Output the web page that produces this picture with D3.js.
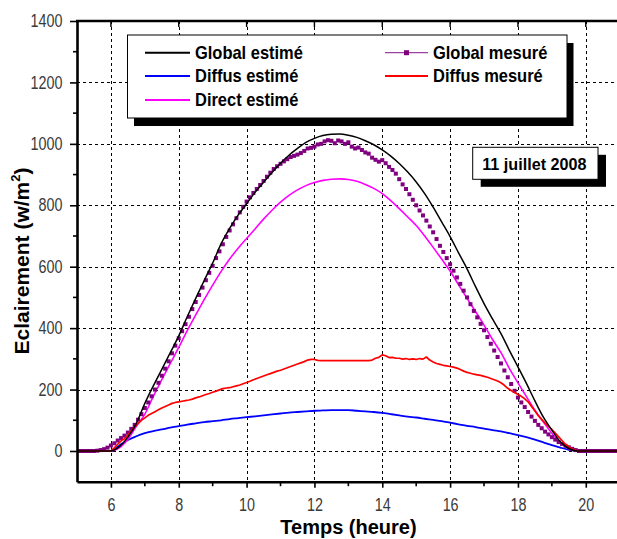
<!DOCTYPE html>
<html>
<head>
<meta charset="utf-8">
<script src="https://cdn.jsdelivr.net/npm/d3@7"></script>
<style>
  html, body { margin: 0; padding: 0; background: #fff; }
  svg { display: block; }
  text { font-family: "Liberation Sans", Arial, sans-serif; }
</style>
</head>
<body>
<svg id="chart" width="617" height="539"></svg>
<script>
// Estimated irradiance, sampled every quarter hour from 5h to 21h
const hoursEstime = d3.range(0, 65).map(i => 5 + i * 0.25);
const globalEstime = [0,0,0,0,0,14,45,90,155,212,266,320,375,437,497,555,612,675,725,768,805,842,875,907,937,963,985,1005,1018,1027,1031,1032,1028,1021,1010,997,980,960,936,908,876,838,794,746,698,645,593,535,480,430,382,327,274,220,163,110,68,30,8,0,0,0,0,0,0];
const diffusEstime = [0,0,0,0,0,18,36,48,58,65,70,76,81,86,90,94,97,100,104,107,110,113,116,119,122,125,127,129,131,132,133,133,133,131,129,127,124,120,116,112,109,105,101,97,92,87,82,78,73,68,64,58,52,45,37,28,19,11,4,0,0,0,0,0,0];
const directEstime = [0,0,0,0,0,10,38,80,120,178,232,285,337,392,443,493,540,585,625,660,692,723,755,784,810,832,850,864,874,881,885,886,884,878,868,855,838,815,789,762,734,700,663,625,586,541,497,454,410,363,320,268,222,177,133,94,58,28,8,0,0,0,0,0,0];

// Measured irradiance, one record every 6 minutes from 5h to 21h
const hoursMesure = d3.range(0, 161).map(i => 5 + i / 10);
const globalMesure = [
  0,0,0,0,0,0,1,3,6,11,                       // 5.0 - 5.9
  18,25,34,42,50,60,72,85,102,120,            // 6.0 - 6.9
  140,158,178,200,222,245,268,292,318,343,    // 7.0 - 7.9
  367,390,413,437,462,485,508,532,556,580,    // 8.0 - 8.9
  603,628,650,673,697,718,738,758,777,795,    // 9.0 - 9.9
  812,826,840,853,866,879,893,906,918,927,    // 10.0 - 10.9
  935,943,950,957,961,965,970,977,985,987,    // 11.0 - 11.9
  991,998,1000,1008,1012,1010,1002,1011,1008,1000, // 12.0 - 12.9
  1005,991,985,988,980,972,968,955,948,942,   // 13.0 - 13.9
  947,937,925,915,903,885,868,853,836,818,    // 14.0 - 14.9
  800,783,767,750,731,712,690,668,648,628,    // 15.0 - 15.9
  608,587,565,544,522,500,478,456,435,414,    // 16.0 - 16.9
  393,371,349,327,306,285,262,240,218,196,    // 17.0 - 17.9
  174,158,143,127,112,98,85,74,63,54,         // 18.0 - 18.9
  45,37,29,23,17,12,7,3,0,0,                  // 19.0 - 19.9
  0,0,0,0,0,0,0,0,0,0,                        // 20.0 - 20.9
  0                                           // 21.0
];
const diffusMesure = [
  0,0,0,0,0,0,0,0,0,0,                        // 5.0 - 5.9
  0,10,22,33,40,52,66,78,90,100,              // 6.0 - 6.9
  108,116,122,128,134,140,145,150,155,158,    // 7.0 - 7.9
  160,162,164,166,169,173,176,180,184,187,    // 8.0 - 8.9
  191,195,199,203,205,206,209,212,215,219,    // 9.0 - 9.9
  223,227,232,236,240,244,248,252,256,260,    // 10.0 - 10.9
  263,267,271,275,279,283,287,291,296,298,    // 11.0 - 11.9
  298,295,294,294,294,294,294,294,294,294,    // 12.0 - 12.9
  294,294,294,294,294,294,294,296,302,305,    // 13.0 - 13.9
  313,310,304,305,302,302,299,301,298,300,    // 14.0 - 14.9
  298,301,299,306,296,290,285,282,279,277,    // 15.0 - 15.9
  275,273,270,265,260,256,253,250,248,246,    // 16.0 - 16.9
  243,240,236,232,228,222,214,204,197,190,    // 17.0 - 17.9
  185,178,170,160,145,130,115,103,91,80,      // 18.0 - 18.9
  70,58,46,34,22,13,6,2,0,0,                  // 19.0 - 19.9
  0,0,0,0,0,0,0,0,0,0,                        // 20.0 - 20.9
  0                                           // 21.0
];

const xMajorTicks = [6, 8, 10, 12, 14, 16, 18, 20];
const xMinorTicks = [7, 9, 11, 13, 15, 17, 19];
const yMajorTicks = [0, 200, 400, 600, 800, 1000, 1200, 1400];
const yMinorTicks = [100, 300, 500, 700, 900, 1100, 1300];

const seriesNames = ["Global estimé", "Diffus estimé", "Direct estimé", "Global mesuré", "Diffus mesuré"];
const seriesColors = ["#000000", "#0000ff", "#ff00ff", "#800080", "#ff0000"];
const dateLabel = "11 juillet 2008";

const svg = d3.select("#chart");
const plotLeft = 77, plotRight = 619.7, plotTop = 21, plotBottom = 481.7;

const x = d3.scaleLinear().domain([5, 21]).range([plotLeft, plotRight]);
const y = d3.scaleLinear().domain([-100, 1400]).range([plotBottom, plotTop]);

// Text narrowed horizontally, anchored at (px, py)
function narrowText(parent, px, py, str, size, sx, anchor, weight, fill) {
  const g = parent.append("g").attr("transform", `translate(${px},${py}) scale(${sx},1)`);
  return g.append("text")
    .attr("text-anchor", anchor)
    .attr("font-size", size)
    .attr("font-weight", weight)
    .attr("fill", fill)
    .text(str);
}

// Dashed grid
const grid = svg.append("g").attr("stroke", "#000").attr("stroke-width", 1).attr("stroke-dasharray", "3,3");
grid.selectAll("line.v").data(xMajorTicks).join("line").attr("class", "v")
  .attr("x1", d => Math.round(x(d)) + 0.5).attr("x2", d => Math.round(x(d)) + 0.5)
  .attr("y1", plotTop).attr("y2", plotBottom);
grid.selectAll("line.h").data(yMajorTicks.filter(v => v < 1400)).join("line").attr("class", "h")
  .attr("y1", d => Math.round(y(d)) + 0.5).attr("y2", d => Math.round(y(d)) + 0.5)
  .attr("x1", plotLeft).attr("x2", 617);

// Curves, clipped to the plot area
svg.append("clipPath").attr("id", "plot-clip")
  .append("rect").attr("x", plotLeft).attr("y", plotTop).attr("width", plotRight - plotLeft).attr("height", plotBottom - plotTop);
const plot = svg.append("g").attr("clip-path", "url(#plot-clip)");

const smoothLine = d3.line().x(d => x(d[0])).y(d => y(d[1])).curve(d3.curveMonotoneX);
const rawLine = d3.line().x(d => x(d[0])).y(d => y(d[1]));

function drawLine(hours, values, color, gen, width) {
  plot.append("path")
    .datum(hours.map((h, i) => [h, values[i]]))
    .attr("fill", "none")
    .attr("stroke", color)
    .attr("stroke-width", width)
    .attr("stroke-linejoin", "round")
    .attr("d", gen);
}

drawLine(hoursEstime, diffusEstime, seriesColors[1], smoothLine, 1.8);
drawLine(hoursEstime, directEstime, seriesColors[2], smoothLine, 1.6);

// Global mesuré: square markers
plot.append("g").selectAll("rect")
  .data(hoursMesure.map((h, i) => [h, globalMesure[i]]))
  .join("rect")
  .attr("x", d => x(d[0]) - 2)
  .attr("y", d => y(d[1]) - 2)
  .attr("width", 4)
  .attr("height", 4)
  .attr("fill", seriesColors[3]);

drawLine(hoursMesure, diffusMesure, seriesColors[4], rawLine, 1.7);
drawLine(hoursEstime, globalEstime, seriesColors[0], smoothLine, 1.5);

// Axes
const tickFill = "#3a3a3a";
const yAxis = svg.append("g").attr("transform", `translate(${plotLeft},0)`)
  .call(d3.axisLeft(y).tickValues(yMajorTicks).tickFormat(d3.format("d")).tickSize(7).tickSizeOuter(0));
const xAxis = svg.append("g").attr("transform", `translate(0,${plotBottom})`)
  .call(d3.axisBottom(x).tickValues(xMajorTicks).tickFormat(d3.format("d")).tickSize(6).tickSizeOuter(0));

[yAxis, xAxis].forEach(a => {
  a.select(".domain").attr("stroke-width", 2.6);
  a.selectAll(".tick line").attr("stroke-width", 1.6);
  a.selectAll(".tick text").attr("font-size", 17.5).attr("fill", tickFill)
    .attr("font-family", "'Liberation Sans', Arial, sans-serif");
});
yAxis.selectAll(".tick text")
  .attr("x", null).attr("dy", "0.32em")
  .attr("transform", "translate(-14.5,0) scale(0.82,1)");
xAxis.selectAll(".tick text")
  .attr("y", null).attr("dy", null)
  .attr("transform", "translate(0,29) scale(0.82,1)");

// Minor ticks
svg.append("g").attr("stroke", "#000").attr("stroke-width", 1.6)
  .selectAll("line").data(yMinorTicks).join("line")
  .attr("x1", plotLeft - 4).attr("x2", plotLeft)
  .attr("y1", d => y(d)).attr("y2", d => y(d));
svg.append("g").attr("stroke", "#000").attr("stroke-width", 1.6)
  .selectAll("line").data(xMinorTicks).join("line")
  .attr("y1", plotBottom).attr("y2", plotBottom + 4.5)
  .attr("x1", d => x(d)).attr("x2", d => x(d));

// Top frame with inward ticks
svg.append("line").attr("x1", plotLeft - 1).attr("x2", 617).attr("y1", plotTop).attr("y2", plotTop)
  .attr("stroke", "#000").attr("stroke-width", 2.6);
svg.append("g").attr("stroke", "#000").attr("stroke-width", 1.4)
  .selectAll("line").data(xMajorTicks).join("line")
  .attr("y1", plotTop).attr("y2", plotTop + 6)
  .attr("x1", d => x(d)).attr("x2", d => x(d));

// Axis titles
svg.append("text")
  .attr("x", 348.5).attr("y", 534)
  .attr("text-anchor", "middle")
  .attr("font-size", 20).attr("font-weight", "bold")
  .text("Temps (heure)");

const yTitle = svg.append("text")
  .attr("transform", "translate(29,261) rotate(-90)")
  .attr("text-anchor", "middle")
  .attr("font-size", 21).attr("font-weight", "bold");
yTitle.append("tspan").text("Eclairement (w/m");
yTitle.append("tspan").attr("font-size", 13).attr("dy", -9).text("2");
yTitle.append("tspan").attr("dy", 9).text(")");

// Legend box with drop shadow
const lg = { x: 127.5, y: 35, w: 439.5, h: 83 };
svg.append("rect").attr("x", lg.x + 6.5).attr("y", lg.y + 8).attr("width", lg.w).attr("height", lg.h).attr("fill", "#000");
svg.append("rect").attr("x", lg.x).attr("y", lg.y).attr("width", lg.w).attr("height", lg.h)
  .attr("fill", "#fff").attr("stroke", "#000").attr("stroke-width", 1);

const legendItems = [
  { i: 0, lx: 145, rowY: 52.7 },
  { i: 1, lx: 145, rowY: 76 },
  { i: 2, lx: 145, rowY: 100 },
  { i: 3, lx: 385, rowY: 52.7 },
  { i: 4, lx: 385, rowY: 76 }
];
const legend = svg.append("g");
legendItems.forEach(it => {
  const len = it.lx < 300 ? 45 : 43;
  legend.append("line")
    .attr("x1", it.lx).attr("x2", it.lx + len)
    .attr("y1", it.rowY).attr("y2", it.rowY)
    .attr("stroke", it.i === 3 ? "#a040a0" : seriesColors[it.i])
    .attr("stroke-width", it.i === 3 ? 1.2 : 2);
  if (it.i === 3) {
    legend.append("rect")
      .attr("x", it.lx + len / 2 - 2.5).attr("y", it.rowY - 2.5)
      .attr("width", 5).attr("height", 5).attr("fill", seriesColors[3]);
  }
  narrowText(legend, it.lx + len + 5, it.rowY + 5.8, seriesNames[it.i], 18.5, 0.89, "start", "bold", "#000");
});

// Date box with drop shadow
const db = { x: 472.7, y: 147.3, w: 125.3, h: 32 };
svg.append("rect").attr("x", db.x + 8).attr("y", db.y + 7.5).attr("width", db.w).attr("height", db.h).attr("fill", "#000");
svg.append("rect").attr("x", db.x).attr("y", db.y).attr("width", db.w).attr("height", db.h)
  .attr("fill", "#fff").attr("stroke", "#000").attr("stroke-width", 1);
narrowText(svg, db.x + db.w / 2 - 1, 169.5, dateLabel, 17, 0.95, "middle", "bold", "#000");
</script>
</body>
</html>
